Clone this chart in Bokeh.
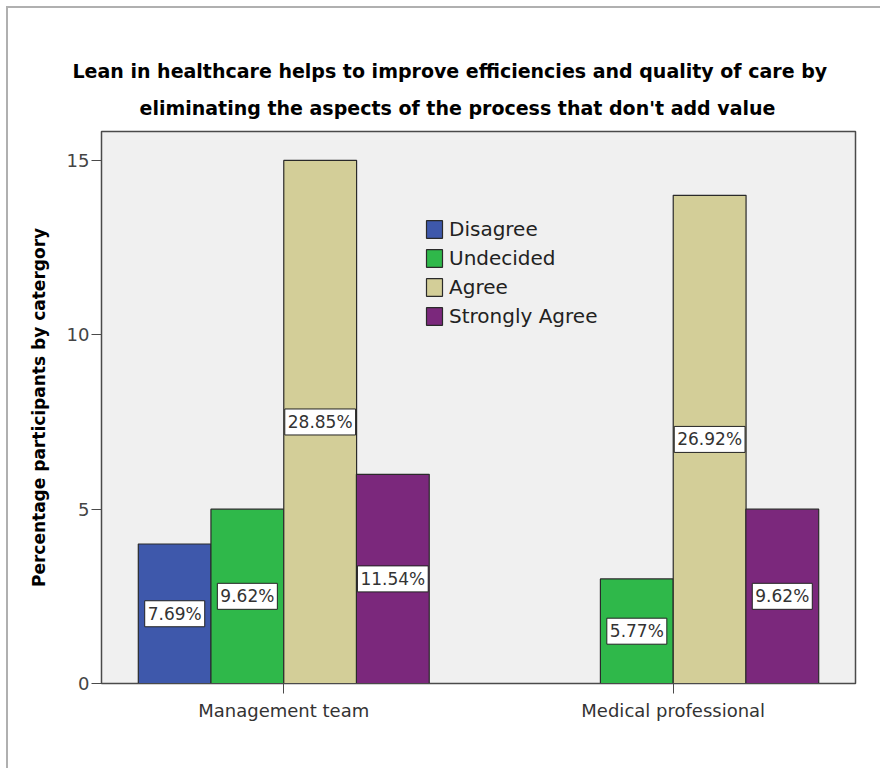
from bokeh.plotting import figure
from bokeh.models import (ColumnDataSource, FactorRange, Legend, LegendItem,
                          Title, FixedTicker)
from bokeh.core.properties import value
from bokeh.transform import dodge
from bokeh.embed import file_html
from bokeh.resources import INLINE

# ---------------- data ----------------
groups = ["Management team", "Medical professional"]
responses = ["Disagree", "Undecided", "Agree", "Strongly Agree"]
disagree = [4, 0]
undecided = [5, 3]
agree = [15, 14]
strongly_agree = [6, 5]
disagree_lbl = ["7.69%", ""]
undecided_lbl = ["9.62%", "5.77%"]
agree_lbl = ["28.85%", "26.92%"]
strongly_lbl = ["11.54%", "9.62%"]
colors = ["#3e58ab", "#2fb84a", "#d3ce98", "#7b287c"]
y_ticks = [0, 5, 10, 15]

title_line1 = "Lean in healthcare helps to improve efficiencies and quality of care by"
title_line2 = "eliminating the aspects of the process that don't add value"
y_label = "Percentage participants by catergory"

FONT = "DejaVu Sans"

p = figure(width=880, height=768, output_backend="svg", toolbar_location=None,
           x_range=FactorRange(factors=groups, range_padding=-0.032),
           y_range=(0, 15.83),
           min_border_left=101, min_border_right=25, min_border_top=131,
           min_border_bottom=85)
p.styles = {
    "background": ("linear-gradient(#b0b0b0,#b0b0b0) 6px 6px / 2px 100% no-repeat, "
                   "linear-gradient(#b0b0b0,#b0b0b0) 6px 6px / 100% 2px no-repeat, white")
}

p.background_fill_color = "#f0f0f0"
p.border_fill_alpha = 0
p.outline_line_color = "#4a4a4a"
p.outline_line_width = 1.5
p.xgrid.visible = False
p.ygrid.visible = False

# first added sits closest to the frame
t2 = Title(text=title_line2, align="left", text_font=FONT, text_font_size="19px",
           text_font_style="bold", text_color="black", standoff=26, offset=38)
t1 = Title(text=title_line1, align="left", text_font=FONT, text_font_size="19px",
           text_font_style="bold", text_color="black", standoff=0, offset=-29)
p.add_layout(t2, "above")
p.add_layout(t1, "above")

series = [disagree, undecided, agree, strongly_agree]
labels = [disagree_lbl, undecided_lbl, agree_lbl, strongly_lbl]
offsets = [-0.28, -0.0935, 0.0935, 0.28]
width = 0.187

items = []
for name, vals, lbls, off, col in zip(responses, series, labels, offsets, colors):
    src = ColumnDataSource(dict(g=groups, v=vals))
    r = p.vbar(x=dodge("g", off, range=p.x_range), top="v", width=width, bottom=0,
               source=src, fill_color=col, line_color="#2a2a2a", line_width=1.2)
    items.append(LegendItem(label=name, renderers=[r]))
    keep = [i for i, v in enumerate(vals) if v > 0]
    lsrc = ColumnDataSource(dict(g=[groups[i] for i in keep],
                                 mid=[vals[i] / 2 for i in keep],
                                 lbl=[lbls[i] for i in keep]))
    p.text(x=dodge("g", off, range=p.x_range), y="mid", text="lbl", source=lsrc,
           text_align="center", text_baseline="middle", text_font=value(FONT),
           text_font_size="17px", text_color="#333333",
           background_fill_color="white", border_line_color="#222222",
           border_line_width=1, padding=3)

legend = Legend(items=items, location=(323, 355), padding=0, margin=0,
                spacing=5, glyph_width=20, glyph_height=22, label_height=22,
                label_standoff=5, label_text_font=FONT, label_text_font_size="20px",
                label_text_color="#222222", background_fill_alpha=0,
                border_line_alpha=0)
p.add_layout(legend, "center")

p.yaxis.ticker = FixedTicker(ticks=y_ticks)
p.yaxis.axis_label = y_label
p.yaxis.axis_label_text_font = FONT
p.yaxis.axis_label_text_font_size = "17px"
p.yaxis.axis_label_text_font_style = "bold"
p.yaxis.axis_label_text_color = "black"
p.yaxis.axis_label_standoff = 15
p.yaxis.major_label_text_font = FONT
p.yaxis.major_label_text_font_size = "18px"
p.yaxis.major_label_text_color = "#444444"
p.yaxis.major_label_standoff = 2
p.yaxis.major_tick_out = 10
p.yaxis.major_tick_in = 0
p.yaxis.minor_tick_line_color = None
p.yaxis.axis_line_color = "#4a4a4a"
p.yaxis.major_tick_line_color = "#4a4a4a"

p.xaxis.major_label_text_font = FONT
p.xaxis.major_label_text_font_size = "18px"
p.xaxis.major_label_text_color = "#333333"
p.xaxis.major_label_standoff = 6
p.xaxis.major_tick_out = 10
p.xaxis.major_tick_in = 0
p.xaxis.axis_line_color = "#4a4a4a"
p.xaxis.major_tick_line_color = "#4a4a4a"

open("out.html", "w").write(file_html(p, INLINE))
